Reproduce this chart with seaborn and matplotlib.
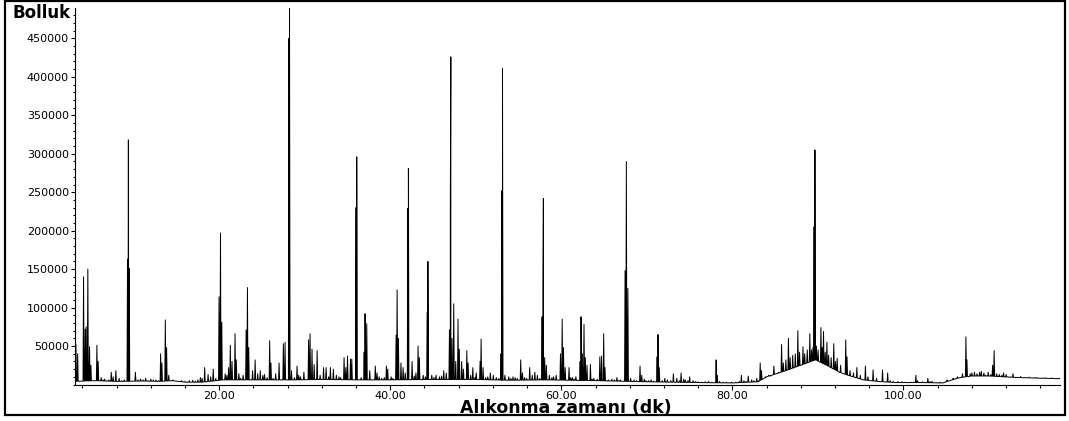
import numpy as np
import pandas as pd
import matplotlib.pyplot as plt
import seaborn as sns
from matplotlib.patches import Rectangle
from matplotlib.ticker import MultipleLocator

# peaks: retention time (min) and abundance at the apex
peak_time = [
    3.25, 3.45, 4.14, 4.33, 4.45, 4.64, 4.84, 5.0, 5.7, 5.85,
    6.2, 6.6, 7.38, 7.6, 7.92, 8.3, 9.28, 9.38, 9.48, 10.2,
    10.8, 11.4, 12.0, 12.6, 13.15, 13.3, 13.7, 13.85, 14.1, 15.2,
    16.5, 17.8, 18.3, 18.7, 19.3, 19.6, 19.98, 20.15, 20.3, 20.7,
    21.1, 21.3, 21.5, 21.85, 22.0, 22.5, 23.15, 23.3, 23.45, 23.9,
    24.2, 24.8, 25.3, 25.9, 26.05, 26.6, 27.0, 27.5, 27.7, 28.15,
    28.22, 28.45, 29.1, 29.5, 29.9, 30.45, 30.62, 30.85, 31.1, 31.45,
    32.2, 32.5, 33.0, 33.35, 34.2, 34.6, 34.8, 35.0, 35.35, 35.5,
    36.0, 36.08, 36.6, 36.95, 37.05, 37.25, 37.6, 38.25, 38.45, 39.0,
    39.55, 39.7, 40.3, 40.68, 40.8, 40.95, 41.25, 41.5, 41.75, 42.05,
    42.12, 42.55, 43.0, 43.25, 43.4, 43.85, 44.33, 44.4, 44.85, 45.35,
    45.75, 46.25, 46.55, 46.92, 47.02, 47.08, 47.22, 47.42, 47.65, 47.92,
    48.07, 48.35, 48.55, 48.95, 49.1, 49.65, 50.05, 50.5, 50.62, 50.85,
    51.15, 51.7, 52.05, 52.95, 53.05, 53.12, 53.4, 53.85, 54.35, 54.85,
    55.25, 55.45, 55.95, 56.3, 56.6, 56.9, 57.2, 57.75, 57.85, 57.9,
    58.05, 58.25, 58.6, 59.1, 59.4, 59.9, 60.1, 60.25, 60.45, 60.9,
    61.3, 61.7, 62.2, 62.3, 62.45, 62.65, 62.8, 63.0, 63.4, 63.8,
    64.5, 64.7, 64.95, 65.1, 65.5, 65.9, 66.5, 66.9, 67.45, 67.6,
    67.78, 68.1, 68.5, 69.2, 69.4, 69.9, 70.5, 71.2, 71.3, 71.45,
    72.1, 73.1, 73.5, 74.0, 74.5, 75.0, 75.7, 76.4, 77.2, 78.1,
    78.2, 78.9, 79.9, 81.05, 81.35, 81.85, 82.25, 82.85, 83.25, 83.4,
    83.85, 84.25, 84.85, 85.15, 85.75, 85.95, 86.25, 86.55, 86.75, 87.05,
    87.35, 87.65, 87.85, 88.25, 88.45, 88.75, 89.05, 89.25, 89.42, 89.55,
    89.65, 89.82, 90.02, 90.35, 90.5, 90.65, 90.85, 91.05, 91.25, 91.55,
    91.85, 92.05, 92.25, 92.65, 93.25, 93.4, 93.75, 94.15, 94.55, 94.95,
    95.55, 95.85, 96.45, 96.85, 97.55, 98.15, 98.45, 99.35, 100.15, 101.45,
    101.65, 102.85, 103.35, 104.3, 105.1, 105.8, 106.3, 106.9, 107.3, 107.42,
    107.8, 108.3, 109.1, 109.6, 110.42, 110.6, 110.9, 111.7, 112.2, 112.8,
    113.4, 114.3, 115.3, 116.3, 117.5,
]
peak_abund = [
    52000, 40000, 140000, 72000, 75000, 150000, 49000, 25000, 51000, 30000,
    9000, 7000, 16000, 10000, 18000, 8000, 163000, 318000, 151000, 16000,
    7000, 8000, 7000, 6000, 40000, 28000, 84000, 48000, 12000, 4000,
    5000, 9000, 22000, 13000, 20000, 8000, 114000, 197000, 81000, 14000,
    22000, 51000, 30000, 66000, 32000, 8000, 71000, 126000, 48000, 18000,
    32000, 18000, 13000, 57000, 28000, 14000, 28000, 53000, 55000, 450000,
    495000, 18000, 24000, 10000, 16000, 58000, 66000, 46000, 26000, 44000,
    22000, 22000, 22000, 20000, 9000, 35000, 22000, 37000, 33000, 33000,
    230000, 296000, 9000, 42000, 92000, 79000, 18000, 24000, 15000, 8000,
    24000, 20000, 8000, 64000, 123000, 60000, 28000, 22000, 15000, 229000,
    281000, 30000, 15000, 50000, 35000, 12000, 94000, 160000, 12000, 12000,
    10000, 18000, 15000, 71000, 232000, 426000, 60000, 105000, 30000, 85000,
    46000, 30000, 20000, 44000, 28000, 22000, 15000, 30000, 59000, 22000,
    9000, 15000, 12000, 40000, 252000, 411000, 12000, 10000, 10000, 8000,
    32000, 15000, 8000, 22000, 12000, 16000, 12000, 88000, 133000, 242000,
    35000, 25000, 12000, 10000, 12000, 40000, 85000, 48000, 22000, 22000,
    9000, 10000, 30000, 88000, 40000, 78000, 35000, 25000, 26000, 8000,
    36000, 37000, 66000, 22000, 6000, 7000, 9000, 6000, 148000, 290000,
    125000, 8000, 6000, 24000, 12000, 5000, 6000, 36000, 65000, 22000,
    8000, 14000, 8000, 15000, 6000, 10000, 4000, 3000, 4000, 32000,
    12000, 3000, 3000, 12000, 5000, 11000, 6000, 8000, 28000, 18000,
    10000, 12000, 24000, 14000, 52000, 28000, 32000, 60000, 35000, 38000,
    40000, 70000, 42000, 49000, 40000, 45000, 66000, 45000, 48000, 205000,
    305000, 50000, 45000, 74000, 48000, 69000, 42000, 55000, 38000, 35000,
    53000, 30000, 34000, 25000, 58000, 36000, 18000, 15000, 22000, 12000,
    24000, 10000, 19000, 8000, 19000, 15000, 5000, 4000, 3000, 12000,
    5000, 8000, 4000, 3000, 6000, 8000, 10000, 14000, 62000, 32000,
    14000, 16000, 17000, 12000, 25000, 44000, 14000, 15000, 10000, 14000,
    9000, 9000, 9000, 8500, 8000,
]

# small bumps of the noisy baseline
bump_time = [
    6.4, 6.9, 7.1, 8.6, 8.9, 10.5, 11.1, 11.7, 12.3, 12.9,
    14.6, 15.0, 15.6, 16.0, 16.9, 17.2, 17.5, 18.0, 19.0, 20.9,
    22.3, 22.8, 24.5, 25.1, 25.6, 26.3, 28.8, 29.3, 31.8, 32.8,
    33.7, 34.0, 38.7, 39.3, 40.1, 42.8, 44.1, 45.1, 46.0, 49.4,
    49.9, 51.4, 52.4, 52.7, 54.1, 54.6, 55.7, 57.5, 58.9, 61.1,
    61.5, 63.6, 64.2, 66.2, 66.7, 68.8, 69.7, 70.2, 70.8, 71.8,
    72.4, 72.8, 73.8, 74.3, 74.8, 75.4, 76.0, 76.8, 77.6, 78.5,
    79.3, 79.6, 80.4, 80.8, 81.6, 82.5, 83.1, 84.5, 85.4, 98.8,
    99.8, 100.5, 100.9, 101.2, 102.2, 102.5, 103.1, 103.7, 104.0, 104.8,
    108.0, 108.6, 108.9, 109.4, 109.9, 110.2, 111.2, 111.5, 112.0, 112.5,
    113.1, 113.7, 114.0, 114.7, 115.0, 115.6, 116.0, 116.6, 117.0, 117.3,
    117.9, 118.2,
]
bump_abund = [
    6000, 5000, 6000, 5000, 6000, 6000, 6000, 5000, 6000, 5000,
    6000, 4500, 5000, 4000, 5500, 4500, 6000, 8000, 10000, 12000,
    14000, 12000, 14000, 12000, 9000, 8000, 9000, 12000, 12000, 10000,
    12000, 10000, 10000, 9000, 10000, 11000, 10000, 9000, 11000, 12000,
    9000, 10000, 9000, 8000, 8000, 9000, 9000, 8000, 9000, 9000,
    7000, 7000, 7000, 6000, 5000, 5000, 7000, 5000, 4500, 5000,
    6000, 5000, 5000, 7000, 5000, 5000, 3500, 3500, 3000, 4000,
    3000, 2500, 3000, 4000, 4000, 5000, 5000, 11000, 16000, 4000,
    3500, 2500, 3000, 3000, 3500, 3000, 4000, 2500, 2500, 3000,
    15000, 14000, 16000, 15000, 16000, 13000, 13000, 12000, 13000, 10000,
    9000, 10500, 8500, 9500, 8500, 9000, 8000, 8800, 7800, 8500,
    7800, 8200,
]

# baseline level between the peaks (incl. the hump near 90 min)
base_time = [3.1, 5.5, 8.0, 11.0, 13.0, 14.5, 16.0, 18.0, 20.5, 24.0,
             28.8, 32.0, 36.4, 40.0, 45.0, 50.0, 54.0, 58.5, 61.0, 64.0,
             66.0, 70.0, 73.0, 76.0, 80.0, 83.0, 84.0, 86.0, 88.0, 89.7,
             91.0, 92.5, 93.5, 95.3, 97.0, 99.0, 102.0, 104.6, 105.4, 106.6,
             108.0, 110.0, 112.5, 115.0, 118.3]
base_abund = [4000, 5000, 4000, 4500, 4000, 5000, 3000, 3000, 6000, 6000,
              6000, 6500, 6000, 6000, 6500, 6500, 5500, 6000, 5500, 5000,
              4500, 3500, 3000, 2500, 2000, 3500, 10000, 17000, 25000, 32000,
              25000, 16000, 12000, 6000, 4000, 2500, 2500, 2000, 5000, 9000,
              11000, 11000, 9500, 8500, 7500]

x_major = [20, 40, 60, 80, 100]
y_major = [50000, 100000, 150000, 200000, 250000, 300000, 350000, 400000, 450000]

# build the trace: every peak / bump is a narrow spike sitting on the baseline
half = 0.06
pk_t = np.array(peak_time + bump_time)
pk_a = np.array(peak_abund + bump_abund)
bt = np.array(base_time)
ba = np.array(base_abund)
keep = np.array([np.min(np.abs(pk_t - t)) > 0.1 for t in bt])
feet = np.concatenate([pk_t - half, pk_t + half])
t_all = np.concatenate([bt[keep], feet, pk_t])
a_all = np.concatenate([ba[keep], np.interp(feet, bt, ba), pk_a])
order = np.argsort(t_all, kind='stable')
trace = pd.DataFrame({'time': t_all[order], 'abund': a_all[order]})

sns.set_style('ticks')
plt.rcParams['font.family'] = ['DejaVu Sans']
plt.rcParams['text.color'] = 'black'
plt.rcParams['xtick.color'] = 'black'
plt.rcParams['ytick.color'] = 'black'

fig = plt.figure(figsize=(10.69, 4.21), dpi=100)
ax = fig.add_axes([75 / 1069, 1 - 384.5 / 421, (1060 - 75) / 1069, (384.5 - 8) / 421])

sns.lineplot(data=trace, x='time', y='abund', sort=False, estimator=None,
             color='black', linewidth=0.7, ax=ax)

ax.set_xlim(3.14, 118.3)
ax.set_ylim(0, 489500)
ax.set_xticks(x_major)
ax.set_xticklabels([f'{v:.2f}' for v in x_major])
ax.xaxis.set_minor_locator(MultipleLocator(4))
ax.set_yticks(y_major)
ax.set_yticklabels([str(v) for v in y_major])
ax.yaxis.set_minor_locator(MultipleLocator(10000))
ax.set_xlabel('')
ax.set_ylabel('')

ax.tick_params(axis='x', which='major', length=3.5, width=0.8, pad=1, labelsize=8,
               colors='black', labelcolor='black')
ax.tick_params(axis='x', which='minor', length=2, width=0.8, colors='black')
ax.tick_params(axis='y', which='major', length=3, width=0.8, pad=1.5, labelsize=8,
               colors='black', labelcolor='black')
ax.tick_params(axis='y', which='minor', length=1.5, width=0.8, colors='black')
for s in ['top', 'right']:
    ax.spines[s].set_visible(False)
for s in ['left', 'bottom']:
    ax.spines[s].set_color('black')
    ax.spines[s].set_linewidth(0.8)

fig.text(13 / 1069, 1 - 13 / 421, 'Bolluk', fontsize=12, fontweight='bold',
         color='black', va='center', ha='left')
fig.text(566 / 1069, 1 - 408 / 421, 'Alıkonma zamanı (dk)', fontsize=12.4,
         fontweight='bold', color='black', va='center', ha='center')

fig.patches.append(Rectangle((5 / 1069, 6 / 421), 1060 / 1069, 414 / 421,
                             transform=fig.transFigure, fill=False,
                             edgecolor='black', linewidth=1.6))

fig.savefig('out.png', dpi=100)
